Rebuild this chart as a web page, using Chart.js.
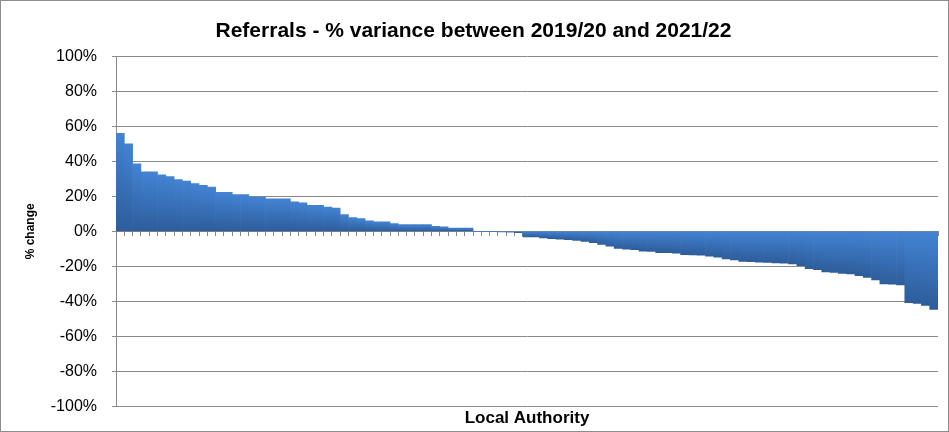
<!DOCTYPE html>
<html>
<head>
<meta charset="utf-8">
<script src="https://cdn.jsdelivr.net/npm/chart.js@4"></script>
<style>
  html, body { margin: 0; padding: 0; background: #fff; }
  #wrap { position: relative; width: 949px; height: 432px; box-sizing: border-box; border: 1px solid #8c8c8c; }
  canvas { display: block; }
</style>
</head>
<body>
<div id="wrap"><canvas id="referralChart" width="947" height="430"></canvas></div>
<script>
// % change in referrals per local authority, sorted high to low
const variance = [
  56, 50, 38.5, 34, 34, 32.3, 31.2, 29.6, 28.7, 27.3,
  26.3, 25.2, 22.3, 22.3, 21, 21, 19.6, 19.6, 18.5, 18.5,
  18.5, 16.9, 16.2, 14.8, 14.8, 13.8, 13.3, 9.6, 7.9, 7.3,
  6.0, 5.4, 5.4, 4.4, 3.8, 3.8, 3.8, 3.8, 2.9, 2.5,
  1.9, 1.9, 1.9, 0, 0, 0, -0.3, -0.5, -0.8, -3.2,
  -3.2, -3.8, -4.2, -4.5, -4.8, -5.2, -5.8, -6.5, -7.5, -8.5,
  -9.8, -10.2, -10.5, -11.3, -11.5, -12.2, -12.2, -12.5, -13.3, -13.5,
  -13.7, -14.2, -14.8, -15.8, -16.3, -17.2, -17.3, -17.6, -17.8, -18.0,
  -18.2, -18.7, -19.6, -21.3, -21.9, -23.2, -23.5, -24, -24.3, -25.4,
  -26.3, -27.7, -30, -30.2, -30.6, -40.8, -41.2, -42.3, -44.6
];
const authorities = variance.map((v, i) => 'LA ' + (i + 1));
const yTicks = [-100, -80, -60, -40, -20, 0, 20, 40, 60, 80, 100];

const chartTitle = 'Referrals - % variance between 2019/20 and 2021/22';
const xTitle = 'Local Authority';
const yTitle = '% change';

const fontFamily = "'Liberation Sans', Arial, sans-serif";
const gridGrey = '#8a8a8a';

function barFill(c) {
  const chart = c.chart;
  if (!chart.chartArea || c.raw === undefined) return '#3a74bd';
  const y = chart.scales.y;
  const p0 = y.getPixelForValue(0);
  const p1 = y.getPixelForValue(c.raw);
  if (Math.abs(p1 - p0) < 1) return '#3a74bd';
  const g = chart.ctx.createLinearGradient(0, Math.min(p0, p1), 0, Math.max(p0, p1));
  g.addColorStop(0, '#4383d3');
  g.addColorStop(1, '#2d5d9b');
  return g;
}

new Chart(document.getElementById('referralChart'), {
  type: 'bar',
  data: {
    labels: authorities,
    datasets: [{
      data: variance,
      backgroundColor: barFill,
      borderWidth: 0,
      barPercentage: 1,
      categoryPercentage: 1
    }]
  },
  options: {
    responsive: false,
    animation: false,
    layout: { padding: { left: 8, right: 10, top: 4, bottom: 2 } },
    plugins: {
      legend: { display: false },
      tooltip: { enabled: false },
      title: {
        display: true,
        text: chartTitle,
        color: '#000',
        font: { family: fontFamily, size: 21, weight: 'bold' },
        padding: { top: 14, bottom: 12 }
      }
    },
    scales: {
      x: {
        position: { y: 0 },
        grid: {
          offset: true,
          drawOnChartArea: false,
          drawTicks: true,
          tickLength: 4,
          color: gridGrey
        },
        border: { display: true, color: gridGrey },
        ticks: { display: false }
      },
      // only carries the axis title under the plot
      xt: {
        type: 'category',
        axis: 'x',
        position: 'bottom',
        labels: authorities,
        grid: { display: false, drawTicks: false },
        border: { display: false },
        ticks: { display: false },
        title: {
          display: true,
          text: xTitle,
          color: '#000',
          font: { family: fontFamily, size: 17, weight: 'bold' },
          padding: { top: 2, bottom: 0 }
        }
      },
      y: {
        min: -100,
        max: 100,
        afterBuildTicks: (s) => { s.ticks = yTicks.map(v => ({ value: v })); },
        afterFit: (s) => { s.width = 107; },
        grid: { color: gridGrey, tickLength: 4 },
        border: { display: true, color: gridGrey },
        ticks: {
          color: '#000',
          padding: 15,
          font: { family: fontFamily, size: 16 },
          callback: (v) => v + '%'
        },
        title: {
          display: true,
          text: yTitle,
          color: '#000',
          font: { family: fontFamily, size: 12, weight: 'bold' },
          padding: { top: 14, bottom: 0 }
        }
      }
    }
  }
});
</script>
</body>
</html>
